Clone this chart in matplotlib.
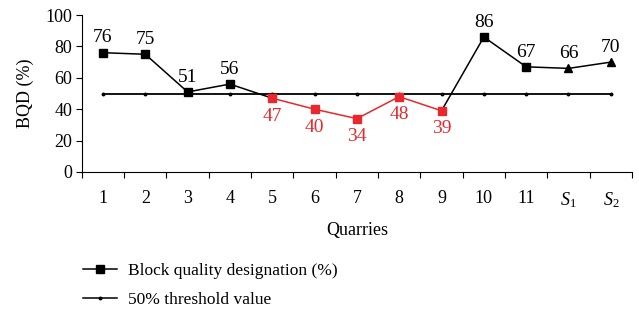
import matplotlib
matplotlib.use('Agg')
import matplotlib.pyplot as plt
from matplotlib.lines import Line2D

plt.rcParams['font.family'] = ['Liberation Serif', 'DejaVu Serif']
plt.rcParams['mathtext.fontset'] = 'custom'
plt.rcParams['mathtext.rm'] = 'Liberation Serif'
plt.rcParams['mathtext.it'] = 'Liberation Serif:italic'

quarries = ['1', '2', '3', '4', '5', '6', '7', '8', '9', '10', '11', '$S_1$', '$S_2$']
bqd = [76, 75, 51, 56, 47, 40, 34, 48, 39, 86, 67, 66, 70]
threshold = 50
red_idx = [4, 5, 6, 7, 8]      # quarries below threshold
tri_idx = [11, 12]             # S1, S2

red = '#e8282d'
x = list(range(len(bqd)))

fig = plt.figure(figsize=(6.39, 3.13), dpi=100)
ax = fig.add_axes([0.128, 0.4505, 0.861, 0.5015])

# threshold line
ax.plot(x, [threshold] * len(x), color='black', lw=1.3, marker='o', ms=1.8)

# segments
for i in range(len(x) - 1):
    c = red if (i in red_idx and i + 1 in red_idx) else 'black'
    ax.plot(x[i:i + 2], bqd[i:i + 2], color=c, lw=1.1)

# markers and labels
for i, v in enumerate(bqd):
    c = red if i in red_idx else 'black'
    m = '^' if i in tri_idx else 's'
    ax.plot(x[i], v, marker=m, color=c, ms=6, ls='none')
    if i in red_idx:
        ax.text(x[i], v - 6, str(v), color=c, ha='center', va='top', fontsize=14)
    else:
        ax.text(x[i], v + 4, str(v), color=c, ha='center', va='bottom', fontsize=14)

ax.set_xlim(-0.5, len(x) - 0.5)
ax.set_ylim(0, 100)
ax.set_yticks(range(0, 101, 20))
ax.set_xticks([i - 0.5 for i in range(len(x) + 1)])
ax.set_xticklabels([])
ax.set_xticks(x, minor=True)
ax.set_xticklabels(quarries, minor=True)
ax.tick_params(axis='x', which='minor', length=0, pad=13, labelsize=13)
ax.tick_params(axis='x', which='major', length=4, direction='out')
ax.tick_params(axis='y', length=4, direction='out', labelsize=13, pad=3)
for s in ['top', 'right']:
    ax.spines[s].set_visible(False)

ax.set_xlabel('Quarries', fontsize=13, labelpad=9)
ax.set_ylabel('BQD (%)', fontsize=13, labelpad=8)

handles = [
    Line2D([], [], color='black', marker='s', ms=6, lw=1.1),
    Line2D([], [], color='black', marker='o', ms=1.8, lw=1.1),
]
fig.legend(handles, ['Block quality designation (%)', '50% threshold value'],
           loc='lower left', bbox_to_anchor=(0.105, -0.035), frameon=False,
           fontsize=12.5, handlelength=2.0, labelspacing=0.75, handletextpad=0.6)

plt.savefig('out.png', dpi=100)
